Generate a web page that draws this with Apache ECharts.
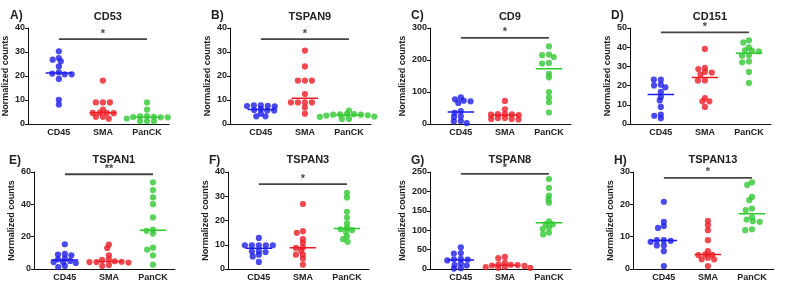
<!DOCTYPE html>
<html>
<head>
<meta charset="utf-8">
<script src="https://cdn.jsdelivr.net/npm/echarts@6/dist/echarts.min.js"></script>
<style>
  html, body { margin: 0; padding: 0; background: #fff; }
  #chart { width: 786px; height: 287px; }
</style>
</head>
<body>
<div id="chart"></div>
<script>
// groups on the x axis
const groups = ['CD45', 'SMA', 'PanCK'];

// panel meta
const panelLetters = ['A)', 'B)', 'C)', 'D)', 'E)', 'F)', 'G)', 'H)'];
const geneNames = ['CD53', 'TSPAN9', 'CD9', 'CD151', 'TSPAN1', 'TSPAN3', 'TSPAN8', 'TSPAN13'];
const yMaxes = [40, 40, 300, 50, 60, 40, 250, 30];
const yIntervals = [10, 10, 100, 10, 20, 10, 50, 10];
const sigMarks = ['*', '*', '*', '*', '**', '*', '*', '*'];
const sigLevels = [35.4, 35.4, 269, 47.7, 58.6, 35, 245, 28.2];

// normalized counts
const CD53_CD45 = [30.3, 26.1, 26.8, 27.5, 24.0, 21.5, 20.7, 21.0, 20.7, 18.8, 10.1, 8.1];
const CD53_SMA = [18.1, 9.0, 9.0, 9.0, 6.0, 4.7, 4.6, 4.6, 4.5, 3.0, 3.0, 2.2];
const CD53_PanCK = [9.0, 6.0, 3.3, 3.0, 2.8, 2.8, 2.9, 3.2, 2.3, 1.1, 1.1, 1.2];

const TSPAN9_CD45 = [7.5, 7.8, 7.6, 7.4, 7.8, 6.2, 5.8, 5.6, 5.6, 4.3, 3.2, 3.2];
const TSPAN9_SMA = [30.6, 24.0, 18.1, 18.1, 18.1, 12.5, 9.0, 9.0, 9.0, 9.0, 6.9, 4.3];
const TSPAN9_PanCK = [5.6, 4.2, 3.6, 3.9, 3.5, 3.9, 4.0, 2.1, 2.1, 3.0, 3.1, 4.1];

const CD9_CD45 = [83, 71, 77, 66, 73, 40, 35, 22, 24, 3, 9, 8];
const CD9_SMA = [72, 46, 29, 28, 31, 31, 30, 16, 19, 14, 16, 19];
const CD9_PanCK = [243, 217, 209, 215, 191, 189, 146, 157, 100, 83, 68, 36];

const CD151_CD45 = [23.1, 23.1, 20.1, 20.5, 19.1, 16.7, 14.1, 12.3, 8.9, 4.9, 4.3, 3.0];
const CD151_SMA = [39.1, 27.1, 29.2, 28.6, 25.7, 22.6, 22.7, 13.5, 11.8, 11.8, 8.9, 26.8];
const CD151_PanCK = [43.6, 42.5, 39.9, 38.2, 37.8, 38.4, 35.8, 35.6, 32.6, 32.1, 27.1, 21.4];

const TSPAN1_CD45 = [15.3, 8.5, 8.9, 9.3, 6.4, 5.0, 6.0, 4.3, 3.7, 4.3, 1.2, 1.9];
const TSPAN1_SMA = [15.1, 13.0, 8.5, 6.0, 5.6, 4.8, 4.3, 4.5, 4.3, 4.0, 1.9, 2.5];
const TSPAN1_PanCK = [53.6, 48.8, 44.3, 40.1, 31.9, 24.4, 23.6, 21.9, 12.0, 13.2, 8.5, 2.7];

const TSPAN3_CD45 = [12.8, 9.8, 9.8, 9.8, 9.8, 9.8, 7.4, 7.0, 7.2, 5.9, 5.2, 2.9];
const TSPAN3_SMA = [26.8, 15.6, 14.9, 12.3, 10.8, 8.9, 8.7, 7.5, 5.9, 5.9, 4.3, 1.8];
const TSPAN3_PanCK = [31.4, 29.5, 23.6, 21.2, 18.8, 16.0, 17.0, 16.4, 15.3, 13.5, 12.3, 11.2];

const TSPAN8_CD45 = [56, 41, 40, 25, 24, 26, 22, 14, 10, 9, 2, 1];
const TSPAN8_SMA = [31, 28, 16, 12, 11, 10, 9, 8, 6, 5, 3, 3];
const TSPAN8_PanCK = [232, 209, 189, 180, 171, 123, 115, 115, 103, 107, 89, 94];

const TSPAN13_CD45 = [20.8, 14.6, 13.3, 12.7, 8.9, 8.9, 8.7, 8.4, 7.3, 7.3, 5.5, 0.9];
const TSPAN13_SMA = [14.9, 13.6, 12.0, 8.9, 5.5, 4.5, 4.3, 4.4, 3.5, 3.0, 3.0, 0.9];
const TSPAN13_PanCK = [26.8, 26.0, 22.3, 21.3, 18.7, 18.2, 16.0, 15.3, 14.8, 14.6, 12.3, 12.0];

const panelData = [
    [CD53_CD45, CD53_SMA, CD53_PanCK],
    [TSPAN9_CD45, TSPAN9_SMA, TSPAN9_PanCK],
    [CD9_CD45, CD9_SMA, CD9_PanCK],
    [CD151_CD45, CD151_SMA, CD151_PanCK],
    [TSPAN1_CD45, TSPAN1_SMA, TSPAN1_PanCK],
    [TSPAN3_CD45, TSPAN3_SMA, TSPAN3_PanCK],
    [TSPAN8_CD45, TSPAN8_SMA, TSPAN8_PanCK],
    [TSPAN13_CD45, TSPAN13_SMA, TSPAN13_PanCK]
];

// look
const colors = ['#1c1ce8', '#ec1c24', '#2fc82f'];
const font = 'Liberation Sans, Arial, sans-serif';
const textColor = '#222';
const gridLefts = [28, 230, 430, 630, 34, 228, 430, 633];
const rowTops = [28, 172];
const rowHeights = [96, 97];
const gridWidth = 141;
const xMax = 3.2;
const centers = [0.7, 1.7, 2.7];
const dotGapX = 7;     // px between dot centres side by side
const dotGapY = 3.5;   // px, dots further apart than this may stack
const medianHalf = 0.3;

function median (arr){
    const s = arr.slice().sort((a, b) => a - b);
    const m = s.length >> 1;
    return s.length % 2 ? s[m] : (s[m - 1] + s[m]) / 2;
}

// deterministic beeswarm: each dot takes the free spot nearest the centre
function swarm (values, center, yMax, height){
    const pxPerX = gridWidth / xMax;
    const pxPerY = height / yMax;
    const placed = [];
    values.slice().sort((a, b) => b - a).forEach(v => {
        const y = v * pxPerY;
        const blocked = [];
        placed.forEach(p => {
            const t = Math.abs(p.y - y) / dotGapY;
            if (t < 1) {
                const dx = dotGapX * Math.sqrt(1 - t * t);
                blocked.push([p.x - dx, p.x + dx]);
            }
        });
        const cands = [0];
        blocked.forEach(b => cands.push(b[0], b[1]));
        cands.sort((a, b) => Math.abs(a) - Math.abs(b));
        const x = cands.find(c => blocked.every(b => c <= b[0] + 1e-6 || c >= b[1] - 1e-6));
        placed.push({x: x, y: y, v: v});
    });
    return placed.map(p => [center + p.x / pxPerX, p.v]);
}

const grids = [], xAxes = [], yAxes = [], series = [], titles = [];

panelData.forEach((data, p) => {
    const row = p < 4 ? 0 : 1;
    const left = gridLefts[p];
    const top = rowTops[row];
    const height = rowHeights[row];
    const yMax = yMaxes[p];

    grids.push({left: left, top: top, width: gridWidth, height: height});

    xAxes.push({
        gridIndex: p,
        type: 'value',
        min: 0,
        max: xMax,
        axisLine: {lineStyle: {color: '#111', width: 1}},
        axisTick: {show: false},
        splitLine: {show: false},
        axisLabel: {
            customValues: centers,
            formatter: v => groups[Math.round(v - 0.7)],
            fontFamily: font,
            fontWeight: 'bold',
            fontSize: 9,
            color: textColor,
            margin: 4
        }
    });

    yAxes.push({
        gridIndex: p,
        type: 'value',
        min: 0,
        max: yMax,
        interval: yIntervals[p],
        name: 'Normalized counts',
        nameLocation: 'middle',
        nameGap: String(yMax).length * 5 + 8,
        nameTextStyle: {fontFamily: font, fontWeight: 'bold', fontSize: 9, color: textColor},
        axisLine: {show: true, lineStyle: {color: '#111', width: 1}},
        axisTick: {show: true, length: 3, lineStyle: {color: '#111'}},
        splitLine: {show: false},
        axisLabel: {fontFamily: font, fontWeight: 'bold', fontSize: 9, color: textColor, margin: 3}
    });

    titles.push({
        text: geneNames[p],
        left: left + centers[1] * gridWidth / xMax,
        top: row ? 149 : 6,
        textAlign: 'center',
        textStyle: {fontFamily: font, fontWeight: 'bold', fontSize: 11, color: textColor}
    });
    titles.push({
        text: panelLetters[p],
        left: gridLefts[p] - (p % 4 === 0 ? (row ? 30 : 23) : 24),
        top: row ? 150 : 5,
        textStyle: {fontFamily: font, fontWeight: 'bold', fontSize: 12, color: textColor}
    });

    data.forEach((vals, g) => {
        series.push({
            type: 'scatter',
            xAxisIndex: p,
            yAxisIndex: p,
            symbolSize: 6.2,
            clip: false,
            itemStyle: {color: colors[g]},
            data: swarm(vals, centers[g], yMax, height)
        });
        const med = median(vals);
        series.push({
            type: 'line',
            xAxisIndex: p,
            yAxisIndex: p,
            symbol: 'none',
            lineStyle: {color: colors[g], width: 1.5},
            data: [[centers[g] - medianHalf, med], [centers[g] + medianHalf, med]]
        });
    });

    // significance bar
    series.push({
        type: 'line',
        xAxisIndex: p,
        yAxisIndex: p,
        symbol: 'none',
        clip: false,
        lineStyle: {color: '#444', width: 1.8},
        data: [[centers[0], sigLevels[p]], [centers[2], sigLevels[p]]]
    });
    series.push({
        type: 'scatter',
        xAxisIndex: p,
        yAxisIndex: p,
        symbolSize: 0,
        clip: false,
        label: {
            show: true,
            position: 'top',
            distance: 0,
            formatter: sigMarks[p],
            fontFamily: font,
            fontWeight: 'bold',
            fontSize: 11,
            color: '#111'
        },
        data: [[centers[1], sigLevels[p]]]
    });
});

const chart = echarts.init(document.getElementById('chart'));
chart.setOption({
    animation: false,
    backgroundColor: '#fff',
    title: titles,
    grid: grids,
    xAxis: xAxes,
    yAxis: yAxes,
    series: series
});
</script>
</body>
</html>
